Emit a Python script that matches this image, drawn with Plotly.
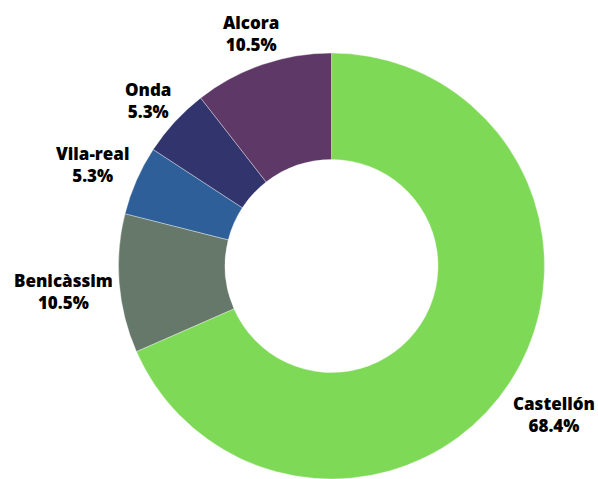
import math
import plotly.graph_objects as go

labels = ["Castellón", "Benicàssim", "Vila-real", "Onda", "Alcora"]
values = [13, 2, 1, 1, 2]
colors = ["#7ED957", "#66786A", "#2E5F98", "#31346D", "#5E3866"]

W, H = 598, 479
R = 213.0
CX, CY = 331.5, 266.0  # pie centre in px from top-left
FS = 17
PAD = 6

fig = go.Figure(go.Pie(
    labels=labels,
    values=values,
    hole=0.5,
    sort=False,
    direction="clockwise",
    rotation=0,
    textinfo="none",
    marker=dict(colors=colors, line=dict(color="rgba(255,255,255,0.6)", width=0.6)),
    domain=dict(x=[(CX - R) / W, (CX + R) / W],
                y=[(H - CY - R) / H, (H - CY + R) / H]),
    showlegend=False,
    hoverinfo="label+percent",
))


def text_width(s, fs):
    w = 0.0
    for ch in s:
        if ch in "ilI.-'j":
            w += 0.3
        elif ch in "mMW%":
            w += 0.92
        else:
            w += 0.6
    return w * fs


total = sum(values)
cum = 0.0
annotations = []
for lab, v in zip(labels, values):
    mid = (cum + v / 2) / total * 2 * math.pi
    cum += v
    sx, sy = math.sin(mid), -math.cos(mid)
    pct = f"{v / total * 100:.1f}%"
    bw = max(text_width(lab, FS), text_width(pct, FS))
    bh = 2 * 1.3 * FS
    d = R + PAD + abs(sx) * bw / 2 + abs(sy) * bh / 2
    px = CX + d * sx
    py = CY + d * sy + 3
    annotations.append(dict(
        x=px / W, y=1 - py / H, xref="paper", yref="paper",
        text=f"{lab}<br>{pct}",
        showarrow=False, xanchor="center", yanchor="middle", align="center",
        font=dict(family="Open Sans", size=FS, color="#000000", weight=800),
    ))

fig.update_layout(
    width=W, height=H,
    margin=dict(l=0, r=0, t=0, b=0),
    paper_bgcolor="white",
    plot_bgcolor="white",
    annotations=annotations,
)

fig.write_html("out.html")
